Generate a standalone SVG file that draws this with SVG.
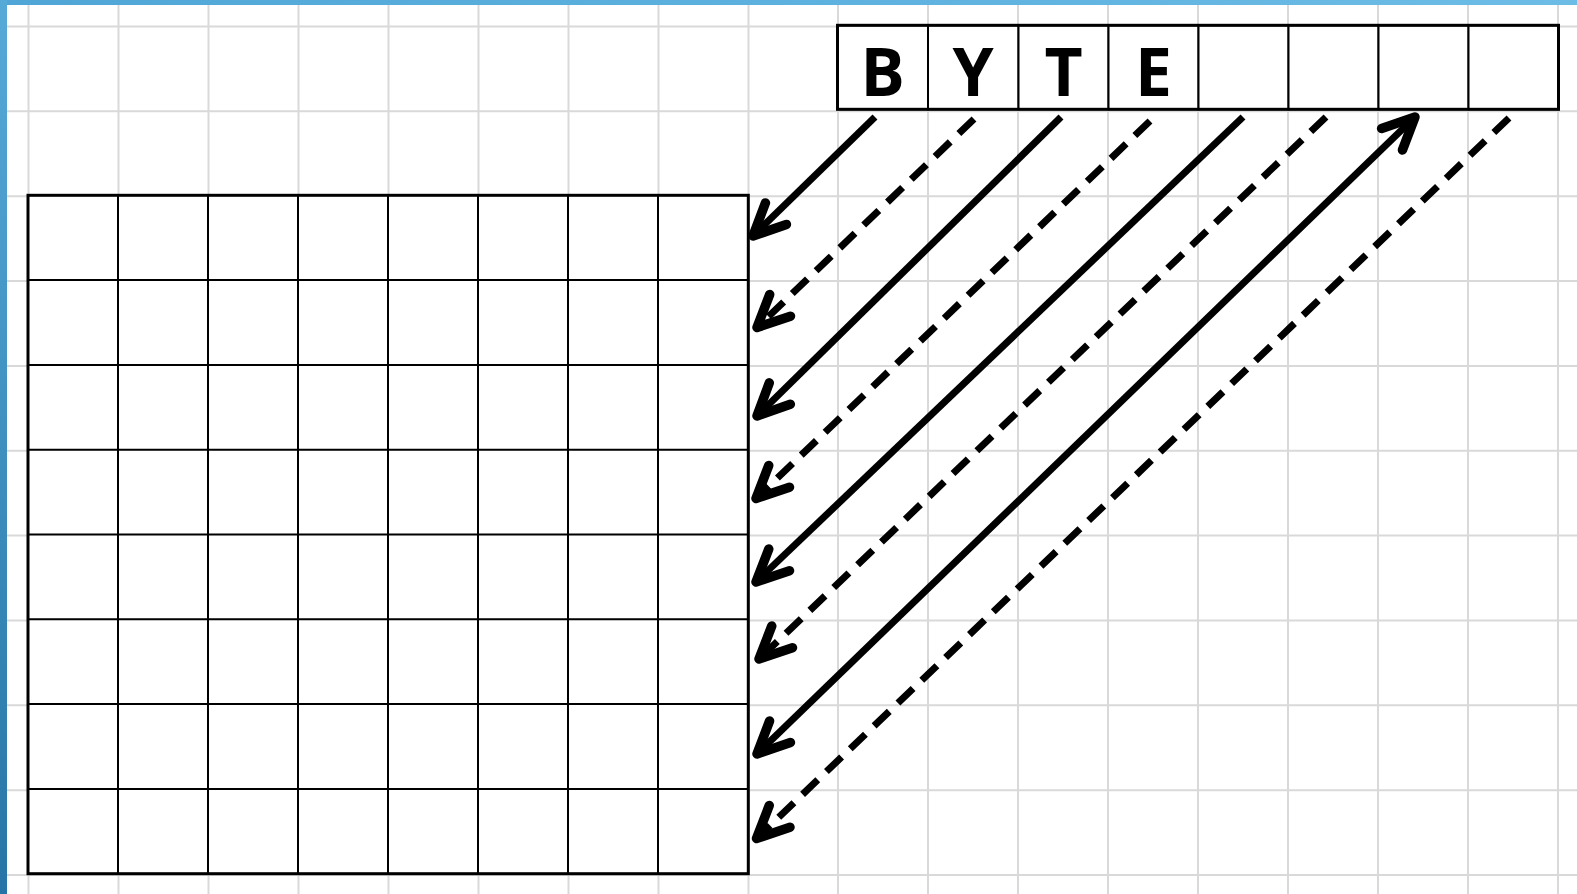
<svg xmlns="http://www.w3.org/2000/svg" width="1577" height="894" viewBox="0 0 1577 894">
<style>
.bg{stroke:#d9d9d9;stroke-width:2;fill:none}
.outer{fill:#fff;stroke:#000;stroke-width:3}
.inner{stroke:#000;stroke-width:2;fill:none}
.cell{fill:#fff;stroke:#000;stroke-width:2}
.frame{fill:none;stroke:#000;stroke-width:3}
.letter{font-family:"Open Sans","Liberation Sans",sans-serif;font-weight:700;font-size:66px;fill:#000;text-anchor:middle}
.arr{fill:none;stroke:#000;stroke-width:7;marker-end:url(#head)}
.dash{stroke-dasharray:21 12}
.both{marker-start:url(#head)}
</style>
<defs>
<linearGradient id="topg" x1="0" y1="0" x2="1" y2="0">
<stop offset="0" stop-color="#4fa6d6"/>
<stop offset="1" stop-color="#6cbce6"/>
</linearGradient>
<linearGradient id="leftg" x1="0" y1="0" x2="0" y2="1">
<stop offset="0" stop-color="#56aad8"/>
<stop offset="1" stop-color="#2675a6"/>
</linearGradient>
<marker id="head" markerUnits="userSpaceOnUse" viewBox="-45 -25 50 50" markerWidth="50" markerHeight="50" refX="0" refY="0" orient="auto-start-reverse" overflow="visible">
<path d="M-32,-15 L0,0 L-32,15" fill="none" stroke="#000" stroke-width="9.5" stroke-linecap="round" stroke-linejoin="round"/>
</marker>
</defs>
<rect x="0" y="0" width="1577" height="894" fill="#fff"/>
<g id="background-grid" class="bg">
<path d="M28.5,0V894M118.5,0V894M208.5,0V894M298.5,0V894M388.5,0V894M478.5,0V894M568.5,0V894M658.5,0V894M748.5,0V894M838,0V894M928,0V894M1018,0V894M1108,0V894M1198,0V894M1288,0V894M1378,0V894M1468,0V894M1558,0V894"/>
<path d="M0,26.5H1577M0,111.3H1577M0,196.2H1577M0,281H1577M0,365.9H1577M0,450.8H1577M0,535.6H1577M0,620.5H1577M0,705.3H1577M0,790.2H1577M0,875H1577"/>
</g>
<g id="matrix">
<rect class="outer" x="28" y="195.3" width="720.3" height="678.4"/>
<path class="inner" d="M118,195.3V873.7M208,195.3V873.7M298,195.3V873.7M388,195.3V873.7M478,195.3V873.7M568,195.3V873.7M658,195.3V873.7M28,280.1H748.3M28,364.9H748.3M28,449.7H748.3M28,534.5H748.3M28,619.3H748.3M28,704.1H748.3M28,788.9H748.3"/>
</g>
<g id="byte-B"><rect class="cell" x="837.5" y="25.3" width="90.5" height="84"/><text class="letter" x="882.7" y="96">B</text></g>
<g id="byte-Y"><rect class="cell" x="928" y="25.3" width="90.5" height="84"/><text class="letter" x="973.2" y="96">Y</text></g>
<g id="byte-T"><rect class="cell" x="1018.5" y="25.3" width="90" height="84"/><text class="letter" x="1063.5" y="96">T</text></g>
<g id="byte-E"><rect class="cell" x="1108.5" y="25.3" width="90" height="84"/><text class="letter" x="1153.5" y="96">E</text></g>
<g id="byte-5"><rect class="cell" x="1198.5" y="25.3" width="90" height="84"/></g>
<g id="byte-6"><rect class="cell" x="1288.5" y="25.3" width="90" height="84"/></g>
<g id="byte-7"><rect class="cell" x="1378.5" y="25.3" width="90" height="84"/></g>
<g id="byte-8"><rect class="cell" x="1468.5" y="25.3" width="90" height="84"/></g>
<rect class="frame" x="837.5" y="25.3" width="721" height="84"/>
<g id="connectors">
<path class="arr" d="M875,117L753,236"/>
<path class="arr dash" d="M974,119L757,327.5"/>
<path class="arr" d="M1061,117L757,416"/>
<path class="arr dash" d="M1150,121L756,498.5"/>
<path class="arr" d="M1243,117L756,582"/>
<path class="arr dash" d="M1326,117L759,659"/>
<path class="arr both" d="M757,754L1415,117"/>
<path class="arr dash" d="M1509,118L756.5,838.5"/>
</g>
<rect x="0" y="0" width="1577" height="5" fill="url(#topg)"/>
<rect x="0" y="0" width="7" height="894" fill="url(#leftg)"/>
</svg>
